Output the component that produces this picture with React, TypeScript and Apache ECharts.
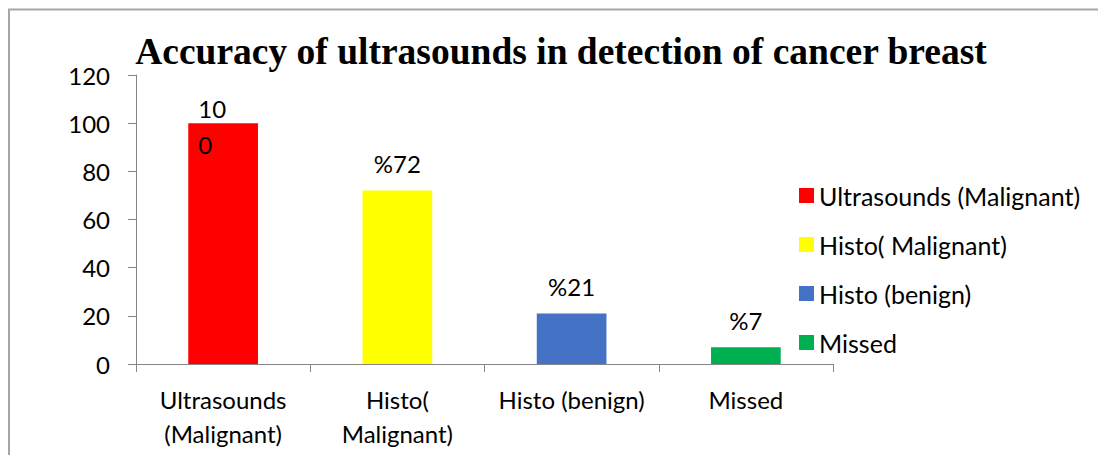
import React, { useEffect, useRef } from "react";
import * as echarts from "echarts";

const categories = ["Ultrasounds\n(Malignant)", "Histo(\nMalignant)", "Histo (benign)", "Missed"];
const seriesNames = ["Ultrasounds (Malignant)", "Histo( Malignant)", "Histo (benign)", "Missed"];
const values = [100, 72, 21, 7];
const labelTexts = ["10\n0", "%72", "%21", "%7"];
const colors = ["#FF0000", "#FFFF00", "#4472C4", "#00B050"];
const yTicks = { min: 0, max: 120, interval: 20 };

const FONT = "Lato";

export default function App() {
  const ref = useRef<HTMLDivElement>(null);
  useEffect(() => {
    if (!ref.current) return;
    const chart = echarts.init(ref.current, undefined, { renderer: "svg" });
    const series = seriesNames.map((name, i) => ({
      name,
      type: "bar",
      stack: "total",
      barWidth: "40%",
      itemStyle: { color: colors[i] },
      data: values.map((v, j) => (j === i ? v : "-")),
      label:
        i === 0
          ? {
              show: true,
              position: [10, -33],
              align: "left",
              verticalAlign: "top",
              formatter: () => labelTexts[i],
              fontFamily: FONT,
              fontSize: 24,
              lineHeight: 36,
              color: "#000",
            }
          : {
              show: true,
              position: "top",
              distance: 15,
              formatter: () => labelTexts[i],
              fontFamily: FONT,
              fontSize: 24,
              lineHeight: 24,
              color: "#000",
            },
    }));
    chart.setOption({
      animation: false,
      backgroundColor: "#fff",
      title: {
        text: "Accuracy of ultrasounds in detection of cancer breast",
        left: 556,
        textAlign: "center",
        top: 27,
        textStyle: {
          fontFamily: "Liberation Serif",
          fontWeight: "bold",
          fontSize: 37.5,
          color: "#000",
        },
      },
      graphic: [
        {
          type: "polyline",
          shape: { points: [[9, 460], [9, 9.5], [1100, 9.5]] },
          style: { stroke: "#A6A6A6", lineWidth: 2, fill: null },
          silent: true,
        },
      ],
      legend: {
        orient: "vertical",
        left: 794,
        top: 178,
        itemWidth: 15,
        itemHeight: 15,
        itemGap: 24,
        icon: "rect",
        textStyle: { fontFamily: FONT, fontSize: 25, lineHeight: 24, color: "#000" },
        data: seriesNames,
      },
      grid: { left: 136, right: 265, top: 75, bottom: 91, containLabel: false },
      xAxis: {
        type: "category",
        data: categories,
        axisLine: { lineStyle: { color: "#868686", width: 1 } },
        axisTick: { show: true, length: 8, lineStyle: { color: "#868686" } },
        axisLabel: {
          interval: 0,
          margin: 18,
          fontFamily: FONT,
          fontSize: 24,
          lineHeight: 34,
          color: "#000",
          verticalAlign: "top",
        },
      },
      yAxis: {
        type: "value",
        min: yTicks.min,
        max: yTicks.max,
        interval: yTicks.interval,
        axisLine: { show: true, lineStyle: { color: "#868686", width: 1 } },
        axisTick: { show: true, length: 8, lineStyle: { color: "#868686" } },
        splitLine: { show: false },
        axisLabel: { margin: 26, fontFamily: FONT, fontSize: 24, color: "#000" },
      },
      series,
    });
    return () => chart.dispose();
  }, []);
  return (
    <div
      ref={ref}
      style={{ position: "fixed", left: 0, top: 0, width: 1098, height: 455 }}
    />
  );
}
